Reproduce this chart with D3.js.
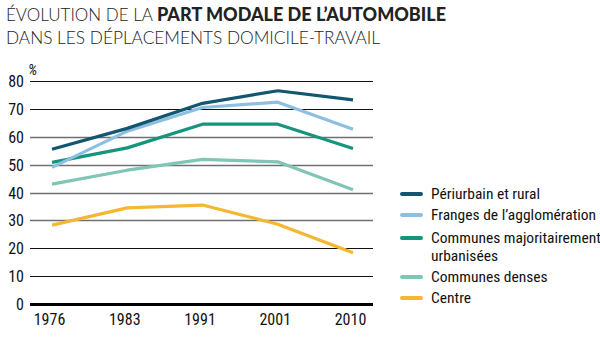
<!DOCTYPE html>
<html>
<head>
<meta charset="utf-8">
<script src="https://cdn.jsdelivr.net/npm/d3@7"></script>
<style>
  body { margin: 0; background: #fff; }
  svg { display: block; }
  .title { font-family: Lato, "Open Sans", sans-serif; font-size: 18px; fill: #222; }
  .narrow { font-family: "Liberation Sans Narrow", "Roboto Condensed", "DejaVu Sans Condensed", sans-serif; }
</style>
</head>
<body>
<div id="chart"></div>
<script>
// data
const years = ["1976", "1983", "1991", "2001", "2010"];
const seriesNames = [
  "Périurbain et rural",
  "Franges de l’agglomération",
  "Communes majoritairement urbanisées",
  "Communes denses",
  "Centre"
];
const periurbain = [55.5, 63, 72, 76.5, 73.2];
const franges = [49, 62, 70.5, 72.4, 62.7];
const communesMaj = [50.8, 56, 64.5, 64.5, 55.8];
const communesDenses = [43, 48, 51.9, 51, 41];
const centre = [28.3, 34.5, 35.5, 28.6, 18.4];
const yTicks = [0, 10, 20, 30, 40, 50, 60, 70, 80];

const colors = ["#13566f", "#8dbfe0", "#15957c", "#80c5b6", "#f5b731"];
const seriesValues = [periurbain, franges, communesMaj, communesDenses, centre];

const width = 600, height = 338;
const svg = d3.select("#chart").append("svg")
  .attr("width", width).attr("height", height);

// title
const t1 = svg.append("text").attr("class", "title").attr("x", 6).attr("y", 21);
t1.append("tspan").attr("font-weight", 300).attr("font-size", 17).text("ÉVOLUTION DE LA ");
t1.append("tspan").attr("font-weight", 900).text("PART MODALE DE L’AUTOMOBILE");
svg.append("text").attr("class", "title").attr("font-weight", 300).attr("font-size", 17)
  .attr("x", 6).attr("y", 44).attr("textLength", 374).attr("lengthAdjust", "spacingAndGlyphs")
  .text("DANS LES DÉPLACEMENTS DOMICILE-TRAVAIL");

// scales
const x = d3.scalePoint().domain(years).range([52, 353]);
const y = d3.scaleLinear().domain([0, 80]).range([304, 81]);
const gridLeft = 30, gridRight = 373;

// gridlines
svg.append("g").selectAll("line")
  .data(yTicks)
  .join("line")
  .attr("x1", gridLeft).attr("x2", gridRight)
  .attr("y1", d => Math.round(y(d)) + 0.5).attr("y2", d => Math.round(y(d)) + 0.5)
  .attr("stroke", d => d === 0 ? "#000" : (d >= 30 && d <= 60 ? "#707070" : "#111"))
  .attr("stroke-width", d => d === 0 ? 3 : (d >= 30 && d <= 60 ? 1.6 : 1));

// y axis labels
const yAxis = d3.axisLeft(y).tickValues(yTicks).tickSize(0).tickPadding(0);
svg.append("g")
  .attr("transform", "translate(24,0)")
  .call(yAxis)
  .call(g => g.select(".domain").remove())
  .call(g => g.selectAll("text")
    .attr("class", "narrow").attr("font-size", 16).attr("fill", "#111")
    .attr("dy", "0.35em"));

svg.append("text").attr("class", "narrow")
  .attr("x", 28).attr("y", 75).attr("font-size", 15)
  .attr("font-style", "italic").attr("fill", "#111").text("%");

// x axis labels
const xAxis = d3.axisBottom(x).tickSize(0).tickPadding(0);
svg.append("g")
  .attr("transform", "translate(-3,314)")
  .call(xAxis)
  .call(g => g.select(".domain").remove())
  .call(g => g.selectAll("text")
    .attr("class", "narrow").attr("font-size", 16).attr("fill", "#111")
    .attr("dy", "0.71em"));

// lines, drawn back to front so the darker series sit on top
const line = d3.line().x((d, i) => x(years[i])).y(d => y(d));
const drawOrder = [4, 3, 2, 1, 0];
svg.append("g").selectAll("path")
  .data(drawOrder)
  .join("path")
  .attr("d", i => line(seriesValues[i]))
  .attr("fill", "none")
  .attr("stroke", i => colors[i])
  .attr("stroke-width", 3.2)
  .attr("stroke-linejoin", "round");

// legend
const legendRows = [194, 215, 238, 277, 298];
const legend = svg.append("g");
seriesNames.forEach((name, i) => {
  const ly = legendRows[i];
  legend.append("line")
    .attr("x1", 402).attr("x2", 421)
    .attr("y1", ly).attr("y2", ly)
    .attr("stroke", colors[i]).attr("stroke-width", 4)
    .attr("stroke-linecap", "round");
  const txt = legend.append("text").attr("class", "narrow")
    .attr("x", 431).attr("y", ly).attr("dy", "0.35em")
    .attr("font-size", 15.5).attr("fill", "#111");
  if (i === 2) {
    txt.append("tspan").text("Communes majoritairement");
    txt.append("tspan").attr("x", 431).attr("dy", "1.15em").text("urbanisées");
  } else {
    txt.text(name);
  }
});
</script>
</body>
</html>
